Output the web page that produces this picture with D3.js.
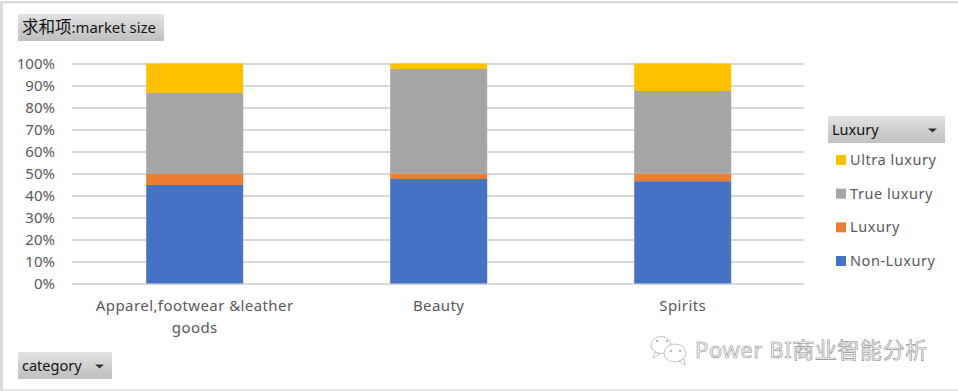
<!DOCTYPE html>
<html>
<head>
<meta charset="utf-8">
<script src="https://cdn.jsdelivr.net/npm/d3@7"></script>
<style>
  html, body { margin: 0; padding: 0; background: #fff; }
  svg { display: block; }
  text { font-family: "Noto Sans", "Noto Sans CJK SC", sans-serif; }
</style>
</head>
<body>
<svg width="958" height="391"></svg>
<script>
var categories = ["Apparel,footwear &leather goods", "Beauty", "Spirits"];
var seriesNames = ["Non-Luxury", "Luxury", "True luxury", "Ultra luxury"];
var nonLuxury = [44.8, 47.5, 46.5];
var luxury = [5.0, 2.5, 3.5];
var trueLuxury = [36.8, 47.5, 37.5];
var ultraLuxury = [13.4, 2.5, 12.5];
var seriesColors = ["#4472c4", "#ed7d31", "#a5a5a5", "#ffc000"];
var yTicks = [0, 10, 20, 30, 40, 50, 60, 70, 80, 90, 100];

var rows = categories.map(function(c, i) {
  return {
    category: c,
    "Non-Luxury": nonLuxury[i],
    "Luxury": luxury[i],
    "True luxury": trueLuxury[i],
    "Ultra luxury": ultraLuxury[i]
  };
});

var svg = d3.select("svg");

var defs = svg.append("defs");
var grad = defs.append("linearGradient").attr("id", "btn")
    .attr("x1", 0).attr("y1", 0).attr("x2", 0).attr("y2", 1);
grad.append("stop").attr("offset", "0%").attr("stop-color", "#e2e2e2");
grad.append("stop").attr("offset", "100%").attr("stop-color", "#bfbfbf");

// outer frame of the excel chart, open on the right
svg.append("rect").attr("x", 0).attr("y", 1).attr("width", 958).attr("height", 2.5).attr("fill", "#dcdcdc");
svg.append("rect").attr("x", 0).attr("y", 1).attr("width", 3).attr("height", 390).attr("fill", "#dcdcdc");
svg.append("rect").attr("x", 0).attr("y", 389.5).attr("width", 958).attr("height", 1.5).attr("fill", "#dcdcdc");

var x = d3.scaleBand().domain(categories).range([73, 804.4]).paddingInner(0.6025).paddingOuter(0.3);
var y = d3.scaleLinear().domain([0, 100]).range([283.5, 63.5]);

var yAxis = d3.axisLeft(y).tickValues(yTicks).tickSize(0).tickPadding(17)
    .tickFormat(function(d) { return d + "%"; });

var gy = svg.append("g").attr("transform", "translate(72,0)").call(yAxis);
gy.select(".domain").remove();
gy.selectAll("text").attr("fill", "#595959").style("font-size", "15px");
gy.selectAll("line")
    .attr("x2", 732).attr("stroke", "#d9d9d9").attr("stroke-width", 2);

var stacked = d3.stack().keys(seriesNames)(rows);

svg.append("g").selectAll("g")
  .data(stacked)
  .enter().append("g")
    .attr("fill", function(d, i) { return seriesColors[i]; })
  .selectAll("rect")
  .data(function(d) { return d; })
  .enter().append("rect")
    .attr("x", function(d) { return x(d.data.category); })
    .attr("y", function(d) { return y(d[1]); })
    .attr("width", x.bandwidth())
    .attr("height", function(d) { return y(d[0]) - y(d[1]); });

// category labels, first one wraps on two lines
var xLabels = svg.append("g").selectAll("text")
  .data(categories)
  .enter().append("text")
    .attr("text-anchor", "middle")
    .attr("fill", "#595959")
    .style("font-size", "15px")
    .style("letter-spacing", "0.42px")
    .attr("y", 311);
xLabels.each(function(d) {
  var cx = x(d) + x.bandwidth() / 2;
  var parts = d.indexOf("goods") > 0 ? [d.replace(" goods", ""), "goods"] : [d];
  d3.select(this).selectAll("tspan")
    .data(parts)
    .enter().append("tspan")
      .attr("x", cx)
      .attr("dy", function(p, i) { return i ? 22 : 0; })
      .text(function(p) { return p; });
});

function fieldButton(bx, by, w, h, prefix, label, arrow) {
  var b = svg.append("g").attr("transform", "translate(" + bx + "," + by + ")");
  b.append("rect").attr("width", w).attr("height", h).attr("fill", "url(#btn)");
  var t = b.append("text").attr("x", 4).attr("y", h - 8)
      .attr("fill", "#111").style("font-size", prefix ? "14.9px" : "14.5px");
  if (prefix) t.append("tspan").style("font-size", "16.5px").text(prefix);
  t.append("tspan").text(label);
  if (arrow) {
    b.append("path")
        .attr("d", "M" + (w - 17) + "," + (h / 2 - 1) + "h9l-4.5,4z")
        .attr("fill", "#333");
  }
}
fieldButton(18, 14, 146, 27, "求和项", ":market size", false);
fieldButton(828, 116, 117, 27, "", "Luxury", true);
fieldButton(18, 352, 94, 27, "", "category", true);

// legend, top to bottom is reverse of the stack
var legendY = d3.scalePoint().domain(seriesNames.slice().reverse()).range([160, 261]);
var legend = svg.append("g").selectAll("g")
  .data(seriesNames.slice().reverse())
  .enter().append("g")
    .attr("transform", function(d) { return "translate(836," + legendY(d) + ")"; });
legend.append("rect")
    .attr("x", 0).attr("y", -5).attr("width", 10).attr("height", 10)
    .attr("fill", function(d) { return seriesColors[seriesNames.indexOf(d)]; });
legend.append("text")
    .attr("x", 14).attr("y", 5)
    .attr("fill", "#595959")
    .style("font-size", "14.5px")
    .style("letter-spacing", "0.55px")
    .text(function(d) { return d; });

// wechat watermark
var wm = svg.append("g").attr("fill", "#fff").attr("stroke", "#b5b5b5").attr("stroke-width", 0.8);
wm.append("ellipse").attr("cx", 661).attr("cy", 345).attr("rx", 10).attr("ry", 8.5);
wm.append("path").attr("d", "M655,352l-2,6l7,-4z");
wm.append("ellipse").attr("cx", 675).attr("cy", 353).attr("rx", 11).attr("ry", 9);
wm.append("path").attr("d", "M679,361l6,4l-1,-6z");
var eyes = svg.append("g").attr("fill", "#9a9a9a");
eyes.append("circle").attr("cx", 657).attr("cy", 341).attr("r", 1);
eyes.append("circle").attr("cx", 667).attr("cy", 341).attr("r", 1);
eyes.append("circle").attr("cx", 671).attr("cy", 351).attr("r", 1);
eyes.append("circle").attr("cx", 680).attr("cy", 351).attr("r", 1);
svg.append("text")
    .attr("x", 695).attr("y", 358)
    .attr("fill", "#fafafa").attr("stroke", "#8f8f8f").attr("stroke-width", 0.6)
    .style("font-size", "22px")
    .style("letter-spacing", "0.6px")
    .text("Power BI商业智能分析");
</script>
</body>
</html>
